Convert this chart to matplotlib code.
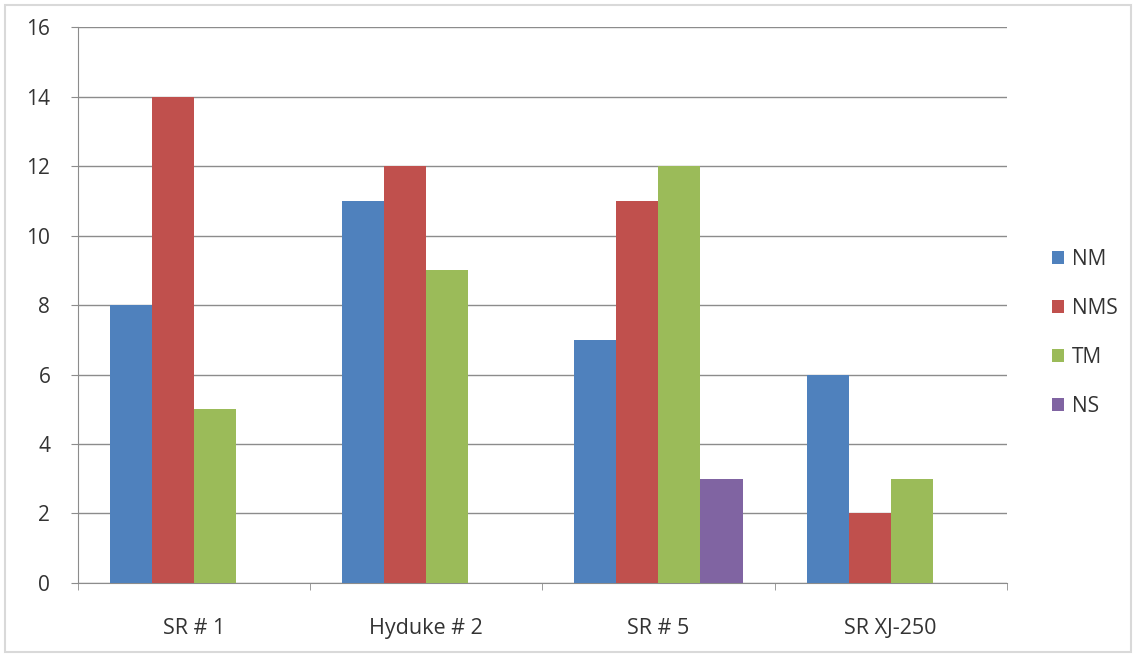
import numpy as np
import matplotlib.pyplot as plt
from matplotlib.patches import Rectangle

categories = ['SR # 1', 'Hyduke # 2', 'SR # 5', 'SR XJ-250']
series = ['NM', 'NMS', 'TM', 'NS']
nm = [8, 11, 7, 6]
nms = [14, 12, 11, 2]
tm = [5, 9, 12, 3]
ns = [0, 0, 3, 0]
colors = ['#4F81BD', '#C0504D', '#9BBB59', '#8064A2']

plt.rcParams['font.family'] = ['Open Sans', 'DejaVu Sans']
fs = 15.5

fig = plt.figure(figsize=(11.36, 6.56), dpi=100)
ax = fig.add_axes([0.0687, 0.1113, 0.8175, 0.8475])

x = np.arange(len(categories))
w = 0.181
for i, (vals, name) in enumerate(zip([nm, nms, tm, ns], series)):
    ax.bar(x + (i - 1.5) * w, vals, w, color=colors[i], label=name, zorder=3)

ax.set_xlim(-0.5, len(categories) - 0.5)
ax.set_ylim(0, 16)
ax.set_yticks(range(0, 17, 2))
ax.yaxis.grid(True, color='#8c8c8c', linewidth=1, zorder=0)
ax.set_xticks(x)
ax.set_xticklabels(categories, fontsize=fs, color='#333333')
ax.set_xticks(np.arange(-0.5, len(categories)), minor=True)
ax.tick_params(axis='x', which='major', length=0, pad=25)
ax.tick_params(axis='x', which='minor', length=5, color='#8c8c8c')
ax.tick_params(axis='y', length=5, color='#8c8c8c', labelsize=15, labelcolor='#333333', pad=15)
for s in ['top', 'right']:
    ax.spines[s].set_visible(False)
for s in ['left', 'bottom']:
    ax.spines[s].set_color('#8c8c8c')

leg = ax.legend(loc='center left', bbox_to_anchor=(1.04, 0.45), frameon=False,
                fontsize=15, handlelength=0.55, handleheight=0.55, handletextpad=0.4,
                labelspacing=1.35, borderaxespad=0)
for t in leg.get_texts():
    t.set_color('#333333')

fig.patches.append(Rectangle((0.004, 0.006), 0.992, 0.986, transform=fig.transFigure,
                             fill=False, edgecolor='#d9d9d9', linewidth=1.5))

fig.savefig('out.png', dpi=100)
